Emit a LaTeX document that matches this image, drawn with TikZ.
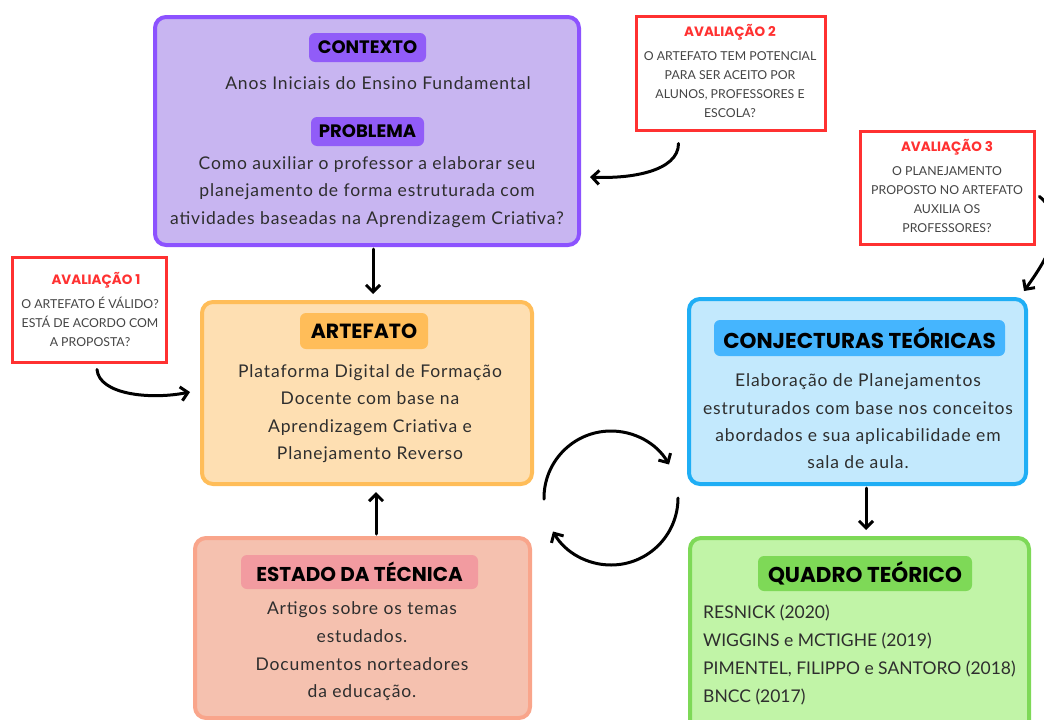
\documentclass[tikz,border=0pt]{standalone}
\usepackage{fontspec}
\setmainfont{Lato}
\newfontfamily\headfont{Poppins}
\newfontfamily\bodyfont{Lato}[LetterSpace=5.0]
\usetikzlibrary{arrows.meta,calc}
\definecolor{purB}{HTML}{8C52FF}
\definecolor{purF}{HTML}{C8B5F1}
\definecolor{purP}{HTML}{915CF8}
\definecolor{evred}{HTML}{FF3131}
\definecolor{oraB}{HTML}{FFBD59}
\definecolor{oraF}{HTML}{FEDFB2}
\definecolor{bluB}{HTML}{1FAEF5}
\definecolor{bluF}{HTML}{C3E9FD}
\definecolor{bluP}{HTML}{45B5FE}
\definecolor{greB}{HTML}{7ED957}
\definecolor{greF}{HTML}{C1F4A7}
\definecolor{salB}{HTML}{F9A58B}
\definecolor{salF}{HTML}{F5C1AF}
\definecolor{salP}{HTML}{F29BA0}
\definecolor{txt}{HTML}{2E2E2E}
\definecolor{txt2}{HTML}{444444}
\begin{document}
\begin{tikzpicture}[x=1pt,y=1pt,
  box/.style={draw, line width=4pt, rounded corners=11pt, inner sep=0pt},
  pill/.style={rounded corners=6pt, inner sep=0pt, text=black},
  body/.style={align=center, text=txt, inner sep=0pt, font=\bodyfont\fontsize{17.5}{27.3}\selectfont},
  evalbox/.style={draw=evred, line width=3pt, fill=white, inner sep=0pt},
  evtitle/.style={text=evred, inner sep=0pt, font=\headfont\bfseries\fontsize{13.5}{13.5}\selectfont},
  evtext/.style={align=center, text=txt2, inner sep=0pt, font=\fontsize{12.3}{19}\selectfont},
  arr/.style={line width=3pt, line cap=round, -{Straight Barb[length=7pt,width=14pt,line width=3pt]}},
]
\useasboundingbox (0,0) rectangle (1044,-720);
\clip (0,0) rectangle (1044,-720);

% contexto / problema
\node[box, draw=purB, fill=purF, minimum width=424, minimum height=228] (ctx) at (367,-131) {};
\node[pill, fill=purP, minimum width=117, minimum height=29, font=\headfont\bfseries\fontsize{18}{18}\selectfont] (ctxp) at (367.5,-47.5) {CONTEXTO};
\node[body] (ctxt) at (378,-83) {Anos Iniciais do Ensino Fundamental};
\node[pill, fill=purP, minimum width=113, minimum height=29, font=\headfont\bfseries\fontsize{18}{18}\selectfont] (prbp) at (367.5,-131.5) {PROBLEMA};
\node[body] (prbt) at (367,-192) {Como auxiliar o professor a elaborar seu\\planejamento de forma estruturada com\\atividades baseadas na Aprendizagem Criativa?};

% avaliacao 2
\node[evalbox, minimum width=189, minimum height=114] (av2) at (730.5,-73) {};
\node[evtitle] (av2t) at (730,-32) {AVALIAÇÃO 2};
\node[evtext] (av2x) at (730,-85) {O ARTEFATO TEM POTENCIAL\\PARA SER ACEITO POR\\ALUNOS, PROFESSORES E\\ESCOLA?};

% avaliacao 3
\node[evalbox, minimum width=174, minimum height=113] (av3) at (947,-187.5) {};
\node[evtitle] (av3t) at (947,-147) {AVALIAÇÃO 3};
\node[evtext] (av3x) at (947,-200) {O PLANEJAMENTO\\PROPOSTO NO ARTEFATO\\AUXILIA OS\\PROFESSORES?};

% avaliacao 1
\node[evalbox, minimum width=154, minimum height=105] (av1) at (89,-309.5) {};
\node[evtitle] (av1t) at (96,-280) {AVALIAÇÃO 1};
\node[evtext] (av1x) at (90,-322) {O ARTEFATO É VÁLIDO?\\ESTÁ DE ACORDO COM\\A PROPOSTA?};

% artefato
\node[box, draw=oraB, fill=oraF, minimum width=330, minimum height=182] (art) at (367,-393) {};
\node[pill, fill=oraB, minimum width=128, minimum height=36, font=\headfont\bfseries\fontsize{20.5}{20.5}\selectfont] (artp) at (364,-331) {ARTEFATO};
\node[body] (artx) at (370,-413.5) {Plataforma Digital de Formação\\Docente com base na\\Aprendizagem Criativa e\\Planejamento Reverso};

% conjecturas
\node[box, draw=bluB, fill=bluF, minimum width=337, minimum height=185] (conj) at (857.5,-391.5) {};
\node[pill, fill=bluP, minimum width=291, minimum height=36, font=\headfont\bfseries\fontsize{21.5}{21.5}\selectfont] (conjp) at (859.5,-338) {CONJECTURAS TEÓRICAS};
\node[body] (conjx) at (858,-421.5) {Elaboração de Planejamentos\\estruturados com base nos conceitos\\abordados e sua aplicabilidade em\\sala de aula.};

% quadro teorico
\node[box, draw=greB, fill=greF, minimum width=339, minimum height=197] (qua) at (859.5,-636.5) {};
\node[pill, fill=greB, minimum width=214, minimum height=35, font=\headfont\bfseries\fontsize{21.5}{21.5}\selectfont] (quap) at (865,-573.5) {QUADRO TEÓRICO};
\node[body, align=left, anchor=west, font=\fontsize{17.5}{28}\selectfont] (quax) at (703,-655) {RESNICK (2020)\\WIGGINS e MCTIGHE (2019)\\PIMENTEL, FILIPPO e SANTORO (2018)\\BNCC (2017)};

% estado da tecnica
\node[box, draw=salB, fill=salF, minimum width=335, minimum height=180] (est) at (362.5,-628) {};
\node[pill, fill=salP, minimum width=237, minimum height=34, font=\headfont\bfseries\fontsize{20}{20}\selectfont] (estp) at (359.5,-572) {ESTADO DA TÉCNICA};
\node[body, font=\bodyfont\fontsize{17.5}{27.7}\selectfont] (estx) at (362,-651.5) {Artigos sobre os temas\\estudados.\\Documentos norteadores\\da educação.};

% straight connectors
\draw[arr] ([xshift=6pt,yshift=-2pt]ctx.south) -- ([xshift=6pt,yshift=6pt]art.north);
\draw[arr] ([xshift=13.5pt,yshift=2pt]est.north) -- ([xshift=9pt,yshift=-6pt]art.south);
\draw[arr] ([xshift=8.5pt,yshift=-2pt]conj.south) -- ([xshift=6.5pt,yshift=6pt]qua.north);

% curved connectors from evaluations
\draw[arr] ($(av2.south)+(-52,-12)$) .. controls +(0,-28) and +(40,-2) .. ($(ctx.east)+(9,-46)$);
\draw[arr] ($(av1.south)+(8,-6)$) .. controls +(2,-25) and +(-40,-8) .. ($(art.west)+(-10,1)$);
\draw[arr] ($(av3.east)+(4,-9)$) .. controls +(30,-26) and +(25,35) .. ($(conj.north east)+(-4,6)$);

% cycle
\coordinate (cyc) at (611,-498);
\draw[arr] ($(cyc)+(181:67)$) arc[start angle=181, end angle=30, radius=67];
\draw[arr] ($(cyc)+(0:67)$) arc[start angle=0, end angle=-150, radius=67];
\end{tikzpicture}
\end{document}
